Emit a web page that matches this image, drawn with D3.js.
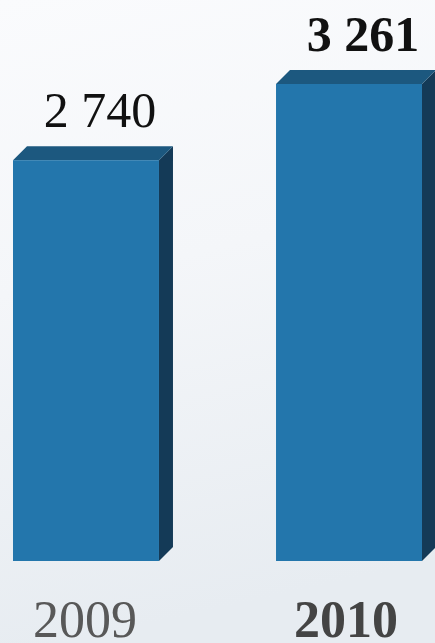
<!DOCTYPE html>
<html>
<head>
<meta charset="utf-8">
<script src="https://cdn.jsdelivr.net/npm/d3@7/dist/d3.min.js"></script>
<style>
  html, body { margin: 0; padding: 0; }
  body { width: 435px; height: 643px; overflow: hidden; }
</style>
</head>
<body>
<svg id="chart" width="435" height="643"></svg>
<script>
const years = ["2009", "2010"];
const values = [2740, 3261];
const valueLabels = ["2 740", "3 261"];
const highlighted = [false, true];

const W = 435, H = 643;
const svg = d3.select("#chart");

// background gradient
const defs = svg.append("defs");
const bg = defs.append("linearGradient").attr("id", "bg")
  .attr("x1", 0).attr("y1", 0).attr("x2", 0.15).attr("y2", 1);
bg.append("stop").attr("offset", "0%").attr("stop-color", "#fafbfd");
bg.append("stop").attr("offset", "45%").attr("stop-color", "#f4f6f9");
bg.append("stop").attr("offset", "100%").attr("stop-color", "#e7ecf1");
svg.append("rect").attr("width", W).attr("height", H).attr("fill", "url(#bg)");

const x = d3.scaleBand().domain(years).range([13, 422]).paddingInner(0.445).paddingOuter(0);
const y = d3.scaleLinear().domain([0, 3261]).range([561, 84]);
const dx = 14, dy = 14;
const bw = x.bandwidth();

const data = years.map((yr, i) => ({ yr, v: values[i], label: valueLabels[i], hl: highlighted[i] }));

const g = svg.append("g");
const bars = g.selectAll("g.bar").data(data).join("g").attr("class", "bar");

// side face
bars.append("path")
  .attr("fill", "#143a57")
  .attr("d", d => {
    const x1 = x(d.yr) + bw, yt = y(d.v), yb = y(0);
    return `M${x1},${yt} L${x1 + dx},${yt - dy} L${x1 + dx},${yb - dy} L${x1},${yb} Z`;
  });
// top face
bars.append("path")
  .attr("fill", "#1c587f")
  .attr("d", d => {
    const x0 = x(d.yr), x1 = x0 + bw, yt = y(d.v);
    return `M${x0},${yt} L${x0 + dx},${yt - dy} L${x1 + dx},${yt - dy} L${x1},${yt} Z`;
  });
// front face
bars.append("rect")
  .attr("fill", "#2376ac")
  .attr("x", d => x(d.yr))
  .attr("y", d => y(d.v))
  .attr("width", bw)
  .attr("height", d => y(0) - y(d.v));

// value labels
bars.append("text")
  .attr("x", d => x(d.yr) + bw / 2 + dx)
  .attr("y", d => y(d.v) - 33)
  .attr("text-anchor", "middle")
  .attr("font-family", "'Liberation Serif', 'DejaVu Serif', serif")
  .attr("font-size", 50)
  .attr("font-weight", d => d.hl ? "bold" : "normal")
  .attr("fill", "#111")
  .text(d => d.label);

// year labels
bars.append("text")
  .attr("x", d => x(d.yr) + bw / 2 - (d.hl ? 3 : 1))
  .attr("y", 637)
  .attr("text-anchor", "middle")
  .attr("font-family", "'Liberation Serif', 'DejaVu Serif', serif")
  .attr("font-size", 52)
  .attr("font-weight", d => d.hl ? "bold" : "normal")
  .attr("fill", d => d.hl ? "#444" : "#585858")
  .text(d => d.yr);
</script>
</body>
</html>
